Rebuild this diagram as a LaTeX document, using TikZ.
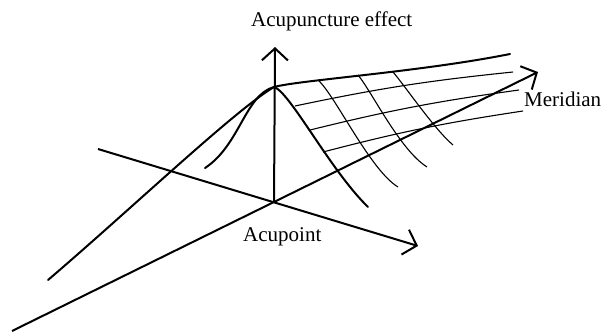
\documentclass[tikz,border=0pt]{standalone}
\usepackage{fontspec}
\setmainfont{Liberation Serif}
\usetikzlibrary{arrows.meta}

\begin{document}
\begin{tikzpicture}[
    x=1pt, y=-1pt,
    axis/.style={line width=2pt, -{Straight Barb[length=12pt, width=26pt]}},
    thickline/.style={line width=2pt, line cap=round},
    gridline/.style={line width=1.1pt},
    axislabel/.style={font=\fontsize{21}{25}\selectfont, inner sep=0pt}
  ]
  \useasboundingbox (0,0) rectangle (605,332);

  % axes
  \coordinate (O) at (274,202);
  \coordinate (up) at (275,47);
  \coordinate (xstart) at (98,149);
  \coordinate (xend) at (418,246);
  \coordinate (mstart) at (12,331);
  \coordinate (mend) at (538,72);
  \draw[axis] (O) -- (up);
  \draw[axis] (xstart) -- (xend);
  \draw[axis] (mstart) -- (mend);

  % bell and ridge
  \coordinate (peak) at (274,87);
  \coordinate (left) at (48,280);
  \coordinate (inner) at (205,168);
  \coordinate (right) at (368,207);
  \coordinate (ridge) at (510,54);
  \draw[thickline] (left) .. controls (130,210) and (235,110) .. (peak)
    .. controls (290,92) and (330,170) .. (right);
  \draw[thickline] (inner) .. controls (240,145) and (245,95) .. (peak);
  \draw[thickline] (peak) .. controls (300,80) and (420,72) .. (ridge);

  % meridian grid
  \coordinate (a1) at (295,106); \coordinate (b1) at (513,72);
  \coordinate (a2) at (310,130); \coordinate (b2) at (519,90);
  \coordinate (a3) at (323,152); \coordinate (b3) at (523,111);
  \foreach \i in {1,2,3}
    \draw[gridline] (a\i) to[bend left=3] (b\i);
  \draw[gridline] (318,80) .. controls (335,95) and (370,170) .. (398,187);
  \draw[gridline] (358,75) .. controls (372,92) and (400,150) .. (427,167);
  \draw[gridline] (393,72) .. controls (405,86) and (435,130) .. (453,145);

  % labels
  \node[axislabel, anchor=base west] (effect) at (251,27) {Acupuncture effect};
  \node[axislabel, anchor=base west] (acupoint) at (243,241) {Acupoint};
  \node[axislabel, anchor=base west] (meridian) at (524,106) {Meridian};
\end{tikzpicture}
\end{document}
